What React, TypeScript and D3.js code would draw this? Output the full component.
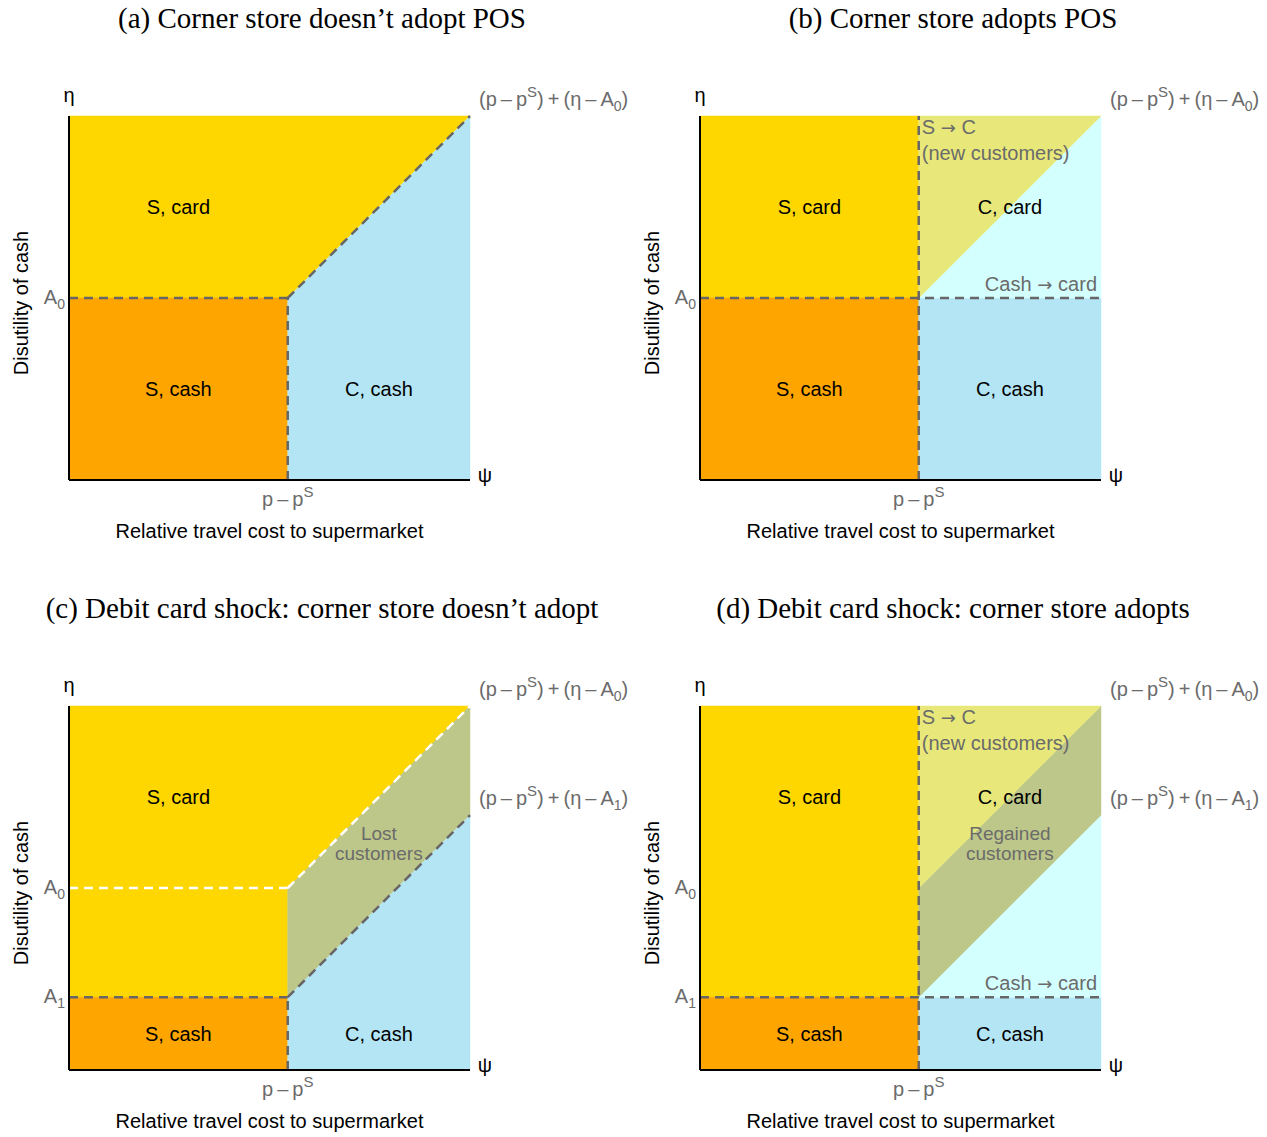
import React from 'react';
import * as d3 from 'd3';

// thresholds in model units
const pK = 1.2;      // p - p^S
const A0 = 1.0;
const A1 = 0.4;
const xMax = 2.2;
const yMax = 2.0;

const panelTitles = [
    '(a) Corner store doesn\u2019t adopt POS',
    '(b) Corner store adopts POS',
    '(c) Debit card shock: corner store doesn\u2019t adopt',
    '(d) Debit card shock: corner store adopts',
];
const panelKeys = ['a', 'b', 'c', 'd'];

const colors = {
    gold: '#FFD700',
    orange: '#FFA500',
    blue: '#B3E5F4',
    cyan: '#D4FFFF',
    yellow: '#E8E87A',
    olive: '#BDC78A',
};
const grey = '#6b6b6b';

type Pt = [number, number];

const diagTop = (a: number) => a + (xMax - pK);

function regionsFor(k: string): { fill: string; pts: Pt[] }[] {
    if (k === 'a') {
        return [
            { fill: colors.gold, pts: [[0, A0], [pK, A0], [xMax, yMax], [0, yMax]] },
            { fill: colors.orange, pts: [[0, 0], [pK, 0], [pK, A0], [0, A0]] },
            { fill: colors.blue, pts: [[pK, 0], [xMax, 0], [xMax, yMax], [pK, A0]] },
        ];
    }
    if (k === 'b') {
        return [
            { fill: colors.gold, pts: [[0, A0], [pK, A0], [pK, yMax], [0, yMax]] },
            { fill: colors.orange, pts: [[0, 0], [pK, 0], [pK, A0], [0, A0]] },
            { fill: colors.blue, pts: [[pK, 0], [xMax, 0], [xMax, A0], [pK, A0]] },
            { fill: colors.cyan, pts: [[pK, A0], [xMax, A0], [xMax, yMax]] },
            { fill: colors.yellow, pts: [[pK, A0], [xMax, yMax], [pK, yMax]] },
        ];
    }
    if (k === 'c') {
        return [
            { fill: colors.gold, pts: [[0, A1], [pK, A1], [pK, A0], [xMax, yMax], [0, yMax]] },
            { fill: colors.orange, pts: [[0, 0], [pK, 0], [pK, A1], [0, A1]] },
            { fill: colors.olive, pts: [[pK, A1], [xMax, diagTop(A1)], [xMax, yMax], [pK, A0]] },
            { fill: colors.blue, pts: [[pK, 0], [xMax, 0], [xMax, diagTop(A1)], [pK, A1]] },
        ];
    }
    return [
        { fill: colors.gold, pts: [[0, A1], [pK, A1], [pK, yMax], [0, yMax]] },
        { fill: colors.orange, pts: [[0, 0], [pK, 0], [pK, A1], [0, A1]] },
        { fill: colors.blue, pts: [[pK, 0], [xMax, 0], [xMax, A1], [pK, A1]] },
        { fill: colors.cyan, pts: [[pK, A1], [xMax, A1], [xMax, diagTop(A1)]] },
        { fill: colors.olive, pts: [[pK, A1], [xMax, diagTop(A1)], [xMax, yMax], [pK, A0]] },
        { fill: colors.yellow, pts: [[pK, A0], [xMax, yMax], [pK, yMax]] },
    ];
}

function dashesFor(k: string): { color: string; pts: Pt[] }[] {
    const g = '#666666';
    if (k === 'a') {
        return [
            { color: g, pts: [[0, A0], [pK, A0]] },
            { color: g, pts: [[pK, 0], [pK, A0]] },
            { color: g, pts: [[pK, A0], [xMax, yMax]] },
        ];
    }
    if (k === 'b') {
        return [
            { color: g, pts: [[pK, 0], [pK, yMax]] },
            { color: g, pts: [[0, A0], [xMax, A0]] },
        ];
    }
    if (k === 'c') {
        return [
            { color: '#ffffff', pts: [[0, A0], [pK, A0]] },
            { color: '#ffffff', pts: [[pK, A0], [xMax, yMax]] },
            { color: g, pts: [[0, A1], [pK, A1]] },
            { color: g, pts: [[pK, 0], [pK, A1]] },
            { color: g, pts: [[pK, A1], [xMax, diagTop(A1)]] },
        ];
    }
    return [
        { color: g, pts: [[pK, 0], [pK, yMax]] },
        { color: g, pts: [[0, A1], [xMax, A1]] },
    ];
}

const sans = '"Liberation Sans", Arial, Helvetica, sans-serif';
const arrowFont = '"DejaVu Sans", sans-serif';
const fs = 20;

function Panel(props: { k: string; title: string; ox: number; oy: number }) {
    const { k, title, ox, oy } = props;
    const w = 401;
    const h = 364;
    const x = d3.scaleLinear().domain([0, xMax]).range([0, w]);
    const y = d3.scaleLinear().domain([0, yMax]).range([h, 0]);
    const line = d3.line<Pt>().x(d => x(d[0])).y(d => y(d[1]));
    const shock = k === 'c' || k === 'd';
    const adopt = k === 'b' || k === 'd';
    const low = shock ? A1 : A0;
    const minus = '\u2009\u2013\u2009';

    const rightLabel = (sub: string, yy: number) => (
        <text x={w + 9} y={yy} fill={grey} fontSize={fs} fontFamily={sans}>
            (p{minus}p<tspan dy={-9} fontSize={15}>S</tspan>
            <tspan dy={9}>){'\u2009'}+{'\u2009'}(η{minus}A</tspan>
            <tspan dy={5} fontSize={14}>{sub}</tspan>
            <tspan dy={-5}>)</tspan>
        </text>
    );
    const yTick = (sub: string, v: number) => (
        <text x={-4} y={y(v) + 6} fill={grey} fontSize={fs} fontFamily={sans} textAnchor="end">
            A<tspan dy={5} fontSize={14}>{sub}</tspan>
        </text>
    );
    const arrow = <tspan fontFamily={arrowFont} fontSize={18}>{' \u2192 '}</tspan>;

    return (
        <g>
            <text x={ox + 253} y={oy - 88} fontSize={29} fontFamily='"Liberation Serif", "Times New Roman", serif' textAnchor="middle">
                {title}
            </text>
            <g transform={`translate(${ox},${oy})`}>
                {regionsFor(k).map((r, i) => (
                    <path key={i} d={line(r.pts) + 'Z'} fill={r.fill} stroke={r.fill} strokeWidth={0.5} />
                ))}
                {dashesFor(k).map((l, i) => (
                    <path key={i} d={line(l.pts) || ''} fill="none" stroke={l.color} strokeWidth={2.5} strokeDasharray="9,6" />
                ))}
                <line x1={0} y1={0} x2={0} y2={h} stroke="#000" strokeWidth={2} />
                <line x1={0} y1={h} x2={w} y2={h} stroke="#000" strokeWidth={2} />

                {/* axis symbols */}
                <text x={0} y={-14} fontSize={fs} fontFamily={sans} textAnchor="middle">η</text>
                <text x={w + 15} y={h + 2} fontSize={fs} fontFamily={sans} textAnchor="middle">ψ</text>
                <text x={x(pK)} y={h + 26} fill={grey} fontSize={fs} fontFamily={sans} textAnchor="middle">
                    p{minus}p<tspan dy={-9} fontSize={15}>S</tspan>
                </text>
                {yTick('0', A0)}
                {shock && yTick('1', A1)}
                {rightLabel('0', -10)}
                {shock && rightLabel('1', y(diagTop(A1)) - 10)}

                <text x={w / 2} y={h + 58} fontSize={fs} fontFamily={sans} textAnchor="middle">
                    Relative travel cost to supermarket
                </text>
                <text transform={`translate(-41,${h / 2 + 5}) rotate(-90)`} fontSize={fs} fontFamily={sans} textAnchor="middle">
                    Disutility of cash
                </text>

                {/* region labels */}
                <g fontSize={fs} fontFamily={sans} textAnchor="middle">
                    <text x={x(0.6)} y={y(1.5) + 7}>S, card</text>
                    <text x={x(0.6)} y={y(low / 2) + 7}>S, cash</text>
                    <text x={x(1.7)} y={y(low / 2) + 7}>C, cash</text>
                    {adopt && <text x={x(1.7)} y={y(1.5) + 7}>C, card</text>}
                </g>
                {adopt && (
                    <g fill={grey} fontSize={fs} fontFamily={sans}>
                        <text x={x(pK) + 3} y={y(yMax) + 18}>S{arrow}C</text>
                        <text x={x(pK) + 3} y={y(yMax) + 44}>(new customers)</text>
                        <text x={w - 4} y={y(low) - 7} textAnchor="end">Cash{arrow}card</text>
                    </g>
                )}
                {k === 'c' && (
                    <g fill={grey} fontSize={19} fontFamily={sans} textAnchor="middle">
                        <text x={x(1.7)} y={y(1.25) - 3}>Lost</text>
                        <text x={x(1.7)} y={y(1.25) + 17}>customers</text>
                    </g>
                )}
                {k === 'd' && (
                    <g fill={grey} fontSize={19} fontFamily={sans} textAnchor="middle">
                        <text x={x(1.7)} y={y(1.25) - 3}>Regained</text>
                        <text x={x(1.7)} y={y(1.25) + 17}>customers</text>
                    </g>
                )}
            </g>
        </g>
    );
}

export default function App() {
    const origins: [number, number][] = [[69, 116], [700, 116], [69, 706], [700, 706]];
    return (
        <svg width={1267} height={1137} style={{ position: 'absolute', left: 0, top: 0 }}>
            <rect width={1267} height={1137} fill="#fff" />
            {panelKeys.map((k, i) => (
                <Panel key={k} k={k} title={panelTitles[i]} ox={origins[i][0]} oy={origins[i][1]} />
            ))}
        </svg>
    );
}
